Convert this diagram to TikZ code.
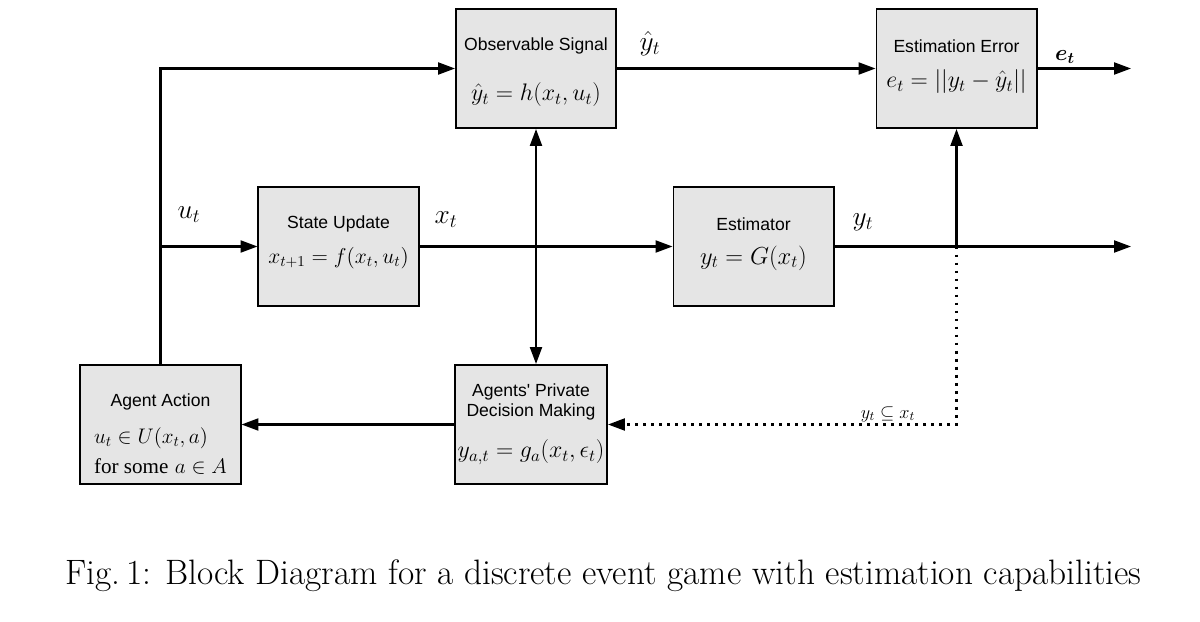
\RequirePackage{fix-cm}
\documentclass[tikz,border=0pt]{standalone}
\usepackage{amsmath}
\usepackage{fontspec}
\setsansfont{Liberation Sans}
\newfontfamily\tmsfont{Liberation Serif}
\usepackage{xcolor}
\usetikzlibrary{arrows.meta}

\definecolor{boxgray}{gray}{0.9}

\tikzset{
	blk/.style = {draw, fill = boxgray, line width = 1.4pt, inner sep = 0pt, minimum width = 4cm, minimum height = 2.975cm},
	ttl/.style = {inner sep = 0pt, font = \sffamily\fontsize{12.5}{14.2}\selectfont, align = center},
	eqn/.style = {inner sep = 0pt, font = \fontsize{#1}{20}\selectfont},
	eqn/.default = 17,
	lbl/.style = {inner sep = 0pt, font = \fontsize{19.5}{22}\selectfont},
	tip/.style = {line width = 1.5pt, -{Triangle[length = 12pt, width = 8.5pt]}},
}

\begin{document}
\begin{tikzpicture}[x = 0.025cm, y = -0.025cm, line width = 1.5pt]
	\def\xOUT{1131};
	\def\xCAP{64};
	\def\yCAP{584};

	\useasboundingbox (0,0) rectangle (1200,622);

	\begin{scope}
		\node [blk] (obs) at (536,68.5) {};
		\node [blk] (err) at (956.5,68.5) {};
		\node [blk] (upd) at (338.5,246.5) {};
		\node [blk] (est) at (753.5,246.5) {};
		\node [blk] (act) at (160.5,424.5) {};
		\node [blk, minimum width = 3.8cm] (pdm) at (531,424.5) {};
	\end{scope}

	\begin{scope}
		\node [ttl] (obsT) at (536,46) {Observable Signal};
		\node [eqn] (obsF) at (536,95) {$\hat{y}_t = h(x_t, u_t)$};
		\node [ttl] (errT) at (956.5,46) {Estimation Error};
		\node [eqn] (errF) at (956.5,82) {$e_t = ||y_t - \hat{y}_t||$};
		\node [ttl] (updT) at (338.5,224) {State Update};
		\node [eqn = 15.3] (updF) at (338.5,258) {$x_{t+1} = f(x_t, u_t)$};
		\node [ttl] (estT) at (753.5,224) {Estimator};
		\node [eqn = 17.5] (estF) at (753.5,258) {$y_t = G(x_t)$};
		\node [ttl] (actT) at (160.5,401.5) {Agent Action};
		\node [eqn = 15, anchor = west] (actF) at (93,438) {$u_t \in U(x_t, a)$};
		\node [eqn = 15, anchor = west] (actG) at (93,466) {{\tmsfont for some} $a \in A$};
		\node [ttl] (pdmT) at (531,402) {Agents\textquotesingle{} Private\\Decision Making};
		\node [eqn] (pdmF) at (531,452) {$y_{a,t} = g_a(x_t, \epsilon_t)$};
	\end{scope}

	\begin{scope}
		\coordinate (eOut) at (\xOUT,68.5);
		\coordinate (yOut) at (\xOUT,246.5);
		\coordinate (yJoin) at (err.south |- est.east);
	\end{scope}

	\begin{scope}[tip]
		\draw (act.north) |- (obs.west);
		\draw (act.north |- upd.west) -- (upd.west);
		\draw (upd.east) -- (est.west);
		\draw (obs.east) -- (err.west);
		\draw (err.east) -- (eOut);
		\draw (est.east) -- (yOut);
		\draw (yJoin) -- (err.south);
		\draw (pdm.west) -- (act.east);
		\draw [dash pattern = on 2pt off 3.7pt] (yJoin) |- (pdm.east);
	\end{scope}

	\draw [line width = 1.5pt, {Triangle[length = 12pt, width = 8.5pt]}-{Triangle[length = 12pt, width = 8.5pt]}] (obs.south) -- (obs.south |- pdm.north);

	\begin{scope}
		\node [lbl] (yHat) at (650,44) {$\hat{y}_t$};
		\node [lbl, font = \fontsize{16}{19}\selectfont] (eLbl) at (1065,57) {$\boldsymbol{e_t}$};
		\node [lbl] (uLbl) at (189,215) {$u_t$};
		\node [lbl] (xLbl) at (446,220) {$x_t$};
		\node [lbl] (yLbl) at (863,222) {$y_t$};
		\node [inner sep = 0pt, font = \fontsize{13}{15}\selectfont] (subLbl) at (888,414) {$y_t \subseteq x_t$};
	\end{scope}

	\node [inner sep = 0pt, anchor = base west, font = \fontsize{25.1}{30}\selectfont] (cap) at (\xCAP,\yCAP) {Fig.\,1: Block Diagram for a discrete event game with estimation capabilities};
\end{tikzpicture}
\end{document}
